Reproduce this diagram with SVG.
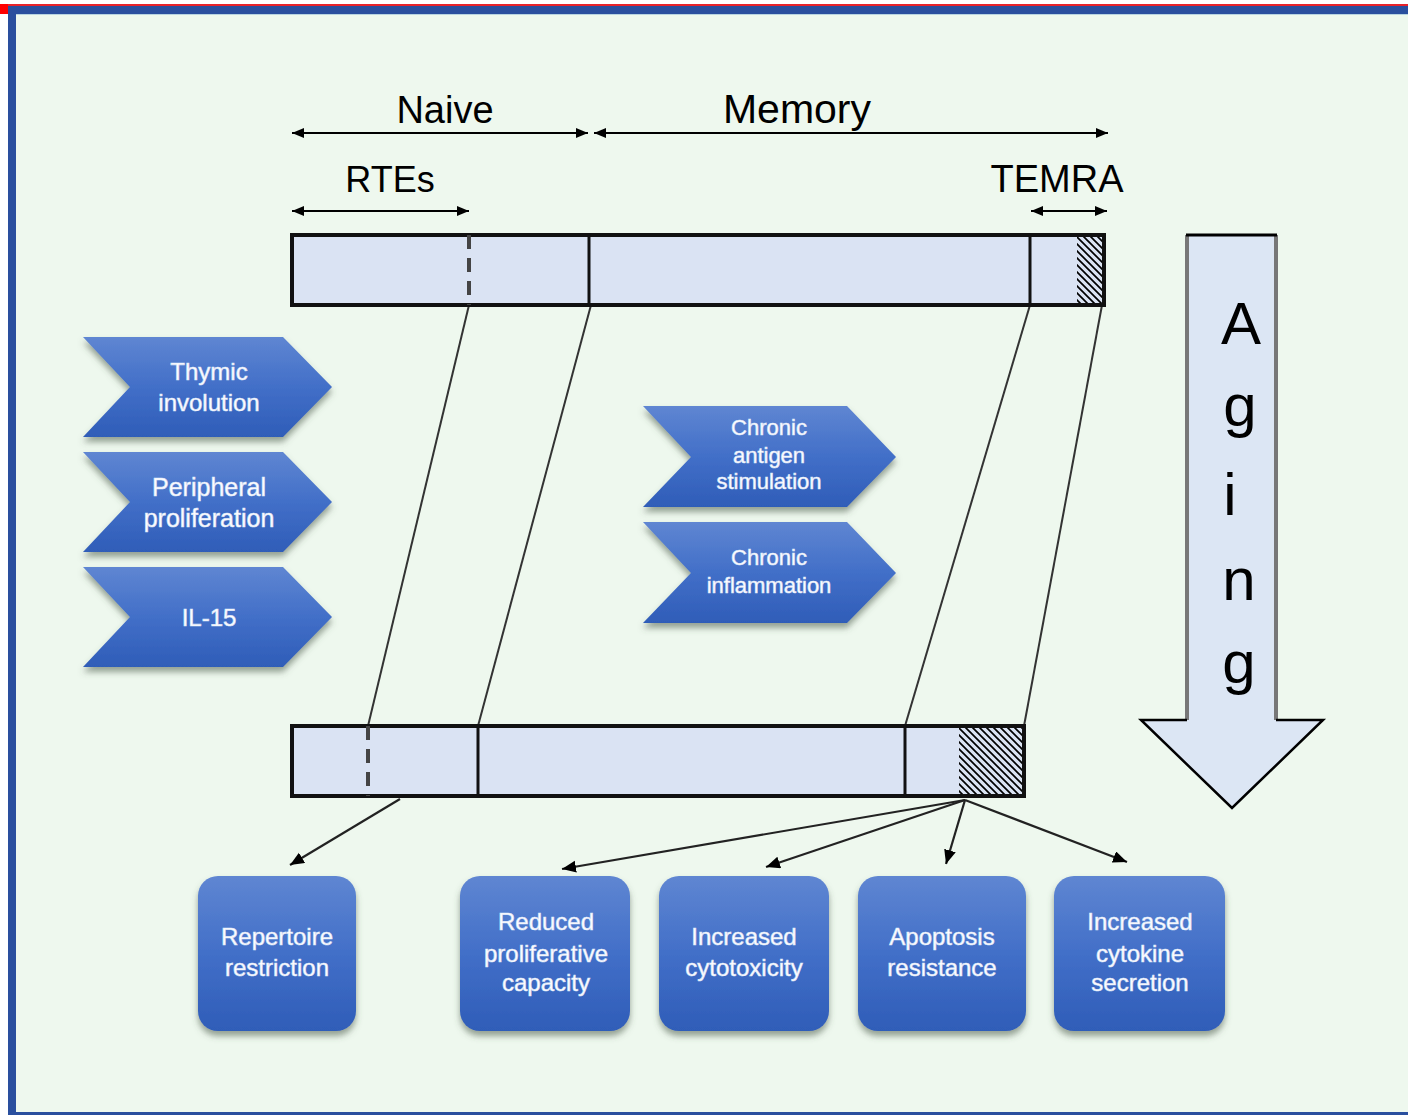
<svg xmlns="http://www.w3.org/2000/svg" width="1408" height="1115" viewBox="0 0 1408 1115">
<style>
.lbl{font-family:"Liberation Sans",Arial,sans-serif;fill:#000;text-anchor:middle}
.wt{font-family:"Liberation Sans",Arial,sans-serif;fill:#fff;text-anchor:middle;stroke:#dbe4f7;stroke-width:0.6}
.bar{fill:#dae3f3;stroke:#111;stroke-width:4}
.div{stroke:#111;stroke-width:3}
.dash{stroke:#444;stroke-width:4;stroke-dasharray:14 9}
.conn{stroke:#333;stroke-width:2;fill:none}
.dim{stroke:#000;stroke-width:2;fill:none;marker-start:url(#ah);marker-end:url(#ah)}
.out{stroke:#222;stroke-width:2.2;fill:none;marker-end:url(#ah2)}
.chev{fill:url(#gb);filter:url(#sh)}
.box{fill:url(#gb);filter:url(#sh)}
</style>
<defs>
<linearGradient id="gb" x1="0" y1="0" x2="0" y2="1">
<stop offset="0" stop-color="#5f86d2"/>
<stop offset="0.5" stop-color="#426fc8"/>
<stop offset="1" stop-color="#2f5db8"/>
</linearGradient>
<filter id="sh" x="-10%" y="-10%" width="120%" height="130%">
<feGaussianBlur in="SourceAlpha" stdDeviation="3"/>
<feOffset dx="0" dy="5" result="b"/>
<feFlood flood-color="#4a5a4a" flood-opacity="0.55"/>
<feComposite in2="b" operator="in"/>
<feMerge><feMergeNode/><feMergeNode in="SourceGraphic"/></feMerge>
</filter>
<pattern id="hatch" patternUnits="userSpaceOnUse" width="7" height="7">
<path d="M-1,-1 L8,8 M-8,-1 L1,8 M6,-1 L15,8" stroke="#000" stroke-width="1.7"/>
</pattern>
<marker id="ah" markerUnits="userSpaceOnUse" markerWidth="14" markerHeight="10" refX="12" refY="5" orient="auto-start-reverse">
<path d="M0,0 L12,5 L0,10 z" fill="#000"/>
</marker>
<marker id="ah2" markerUnits="userSpaceOnUse" markerWidth="16" markerHeight="14" refX="14" refY="6" orient="auto">
<path d="M0,0 L14,6 L0,12 z" fill="#000"/>
</marker>
</defs>

<rect x="0" y="0" width="1408" height="1115" fill="#fff"/>
<rect x="12" y="10" width="1410" height="1106" fill="#eef8ee" stroke="#2a4f9e" stroke-width="8"/>
<line x1="16" y1="14.5" x2="1408" y2="14.5" stroke="#b8d4e0" stroke-width="1"/>
<rect x="0" y="4" width="1408" height="2" fill="#e8222a"/>
<rect x="0" y="4" width="8" height="10" fill="#ff0000"/>

<g id="labels">
<text class="lbl" x="445" y="123" font-size="38">Naive</text>
<text class="lbl" x="797" y="123" font-size="41">Memory</text>
<text class="lbl" x="390" y="192" font-size="36">RTEs</text>
<text class="lbl" x="1057" y="192" font-size="38">TEMRA</text>
</g>

<g id="connectors">
<line class="dim" x1="292" y1="133" x2="588" y2="133"/>
<line class="dim" x1="594" y1="133" x2="1108" y2="133"/>
<line class="dim" x1="292" y1="211" x2="469" y2="211"/>
<line class="dim" x1="1031" y1="211" x2="1107" y2="211"/>
<line class="conn" x1="469" y1="305" x2="368" y2="726"/>
<line class="conn" x1="591" y1="305" x2="478" y2="726"/>
<line class="conn" x1="1030" y1="305" x2="905" y2="726"/>
<line class="conn" x1="1102" y1="305" x2="1024" y2="726"/>
<line class="out" x1="400" y1="799" x2="290" y2="865"/>
<line class="out" x1="965" y1="800" x2="562" y2="869"/>
<line class="out" x1="965" y1="800" x2="766" y2="867"/>
<line class="out" x1="965" y1="800" x2="946" y2="864"/>
<line class="out" x1="965" y1="800" x2="1127" y2="862"/>
</g>

<g id="bar-top">
<rect class="bar" x="292" y="235" width="812" height="70"/>
<rect x="1077" y="237" width="25" height="66" fill="url(#hatch)"/>
<line class="dash" x1="469" y1="235" x2="469" y2="305"/>
<line class="div" x1="589" y1="235" x2="589" y2="305"/>
<line class="div" x1="1030" y1="235" x2="1030" y2="305"/>
</g>

<g id="bar-bottom">
<rect class="bar" x="292" y="726" width="732" height="70"/>
<rect x="959" y="728" width="63" height="66" fill="url(#hatch)"/>
<line class="dash" x1="368" y1="726" x2="368" y2="796"/>
<line class="div" x1="478" y1="726" x2="478" y2="796"/>
<line class="div" x1="905" y1="726" x2="905" y2="796"/>
</g>

<g id="chev-thymic">
<path class="chev" d="M83,337 L283,337 L332,387 L283,437 L83,437 L130,387 z"/>
<text class="wt" x="209" y="380" font-size="24">Thymic</text>
<text class="wt" x="209" y="411" font-size="24">involution</text>
</g>
<g id="chev-peripheral">
<path class="chev" d="M83,452 L283,452 L332,502 L283,552 L83,552 L130,502 z"/>
<text class="wt" x="209" y="496" font-size="25">Peripheral</text>
<text class="wt" x="209" y="527" font-size="25">proliferation</text>
</g>
<g id="chev-il15">
<path class="chev" d="M83,567 L283,567 L332,617 L283,667 L83,667 L130,617 z"/>
<text class="wt" x="209" y="626" font-size="24">IL-15</text>
</g>
<g id="chev-antigen">
<path class="chev" d="M643,406 L847,406 L896,457 L847,507 L643,507 L691,457 z"/>
<text class="wt" x="769" y="435" font-size="22">Chronic</text>
<text class="wt" x="769" y="463" font-size="22">antigen</text>
<text class="wt" x="769" y="489" font-size="22">stimulation</text>
</g>
<g id="chev-inflammation">
<path class="chev" d="M643,522 L847,522 L896,573 L847,623 L643,623 L691,573 z"/>
<text class="wt" x="769" y="565" font-size="22">Chronic</text>
<text class="wt" x="769" y="593" font-size="22">inflammation</text>
</g>

<g id="aging">
<path d="M1187,235 L1276,235 L1276,720 L1323,720 L1232,808 L1141,720 L1187,720 z" fill="#dce6f4"/>
<line x1="1187" y1="235" x2="1187" y2="720" stroke="#777" stroke-width="4"/>
<line x1="1276" y1="235" x2="1276" y2="720" stroke="#777" stroke-width="4"/>
<line x1="1186" y1="235" x2="1277" y2="235" stroke="#000" stroke-width="3"/>
<path d="M1187,720 L1141,720 L1232,808 L1323,720 L1276,720" fill="none" stroke="#000" stroke-width="2.5"/>
<text class="lbl" x="1241" y="344" font-size="60">A</text>
<text class="lbl" x="1240" y="426" font-size="60">g</text>
<text class="lbl" x="1230" y="515" font-size="60">i</text>
<text class="lbl" x="1239" y="600" font-size="60">n</text>
<text class="lbl" x="1239" y="683" font-size="60">g</text>
</g>

<g id="box-repertoire">
<rect class="box" x="198" y="876" width="158" height="155" rx="20"/>
<text class="wt" x="277" y="945" font-size="24">Repertoire</text>
<text class="wt" x="277" y="976" font-size="24">restriction</text>
</g>
<g id="box-reduced">
<rect class="box" x="460" y="876" width="170" height="155" rx="20"/>
<text class="wt" x="546" y="930" font-size="24">Reduced</text>
<text class="wt" x="546" y="962" font-size="24">proliferative</text>
<text class="wt" x="546" y="991" font-size="24">capacity</text>
</g>
<g id="box-cytotoxicity">
<rect class="box" x="659" y="876" width="170" height="155" rx="20"/>
<text class="wt" x="744" y="945" font-size="24">Increased</text>
<text class="wt" x="744" y="976" font-size="24">cytotoxicity</text>
</g>
<g id="box-apoptosis">
<rect class="box" x="858" y="876" width="168" height="155" rx="20"/>
<text class="wt" x="942" y="945" font-size="24">Apoptosis</text>
<text class="wt" x="942" y="976" font-size="24">resistance</text>
</g>
<g id="box-cytokine">
<rect class="box" x="1054" y="876" width="171" height="155" rx="20"/>
<text class="wt" x="1140" y="930" font-size="24">Increased</text>
<text class="wt" x="1140" y="962" font-size="24">cytokine</text>
<text class="wt" x="1140" y="991" font-size="24">secretion</text>
</g>
</svg>
